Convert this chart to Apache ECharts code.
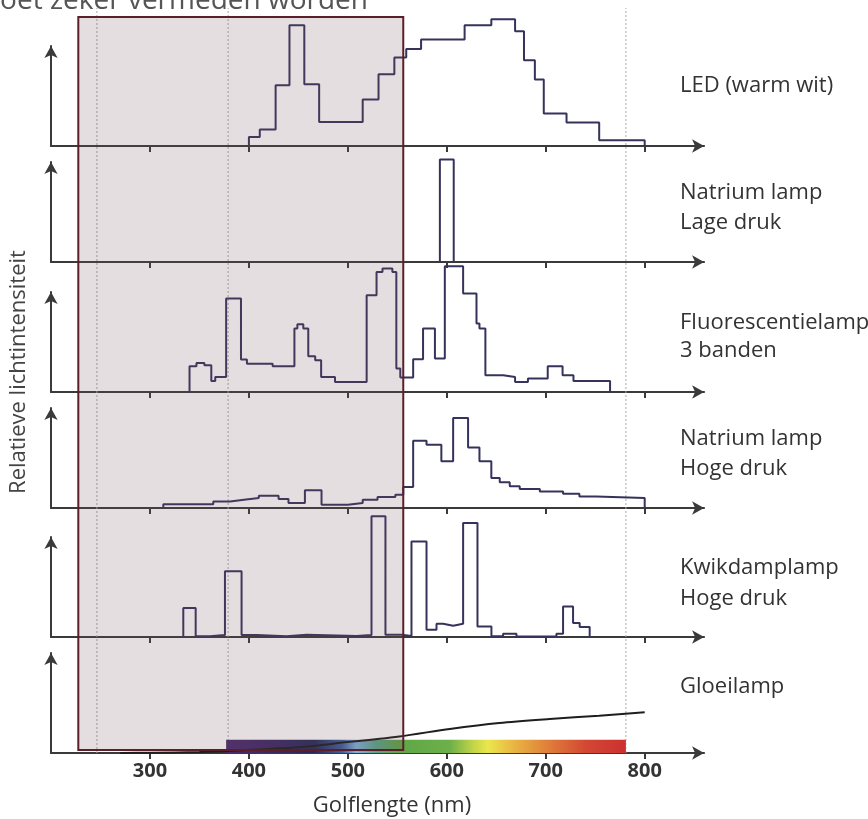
<!DOCTYPE html>
<html><head><meta charset="utf-8">
<script src="https://cdn.jsdelivr.net/npm/echarts@6/dist/echarts.min.js"></script>
<style>html,body{margin:0;padding:0;background:#fff}#chart{width:868px;height:819px}</style>
</head><body><div id="chart"></div>
<script>
// ---------- data (wavelength in nm, relative intensity) ----------
const tickValues = [300, 400, 500, 600, 700, 800];

const ledEdges  = [400, 411, 427, 441, 456, 471, 515, 531, 547, 559, 574, 618, 645, 669, 678, 689, 698, 721, 754, 800];
const ledLevels = [8.6, 15.6, 57.8, 115, 58.8, 22.9, 44.2, 68.3, 84.2, 92.3, 101.3, 115, 120.7, 109.2, 81.6, 63.2, 30.9, 22.3, 5.4];

const naLowEdges  = [593, 607];
const naLowLevels = [97.5];

const fluoEdges  = [340, 347, 355, 362, 366, 377, 392, 398, 424, 446, 449, 455, 460, 467, 473, 487, 519, 529, 535, 545, 549, 553, 566, 576, 588, 598, 616.5, 630, 633, 639, 657, 669, 682, 702, 717, 728, 765];
const fluoLevels = [24.5, 27.6, 25.4, 10.5, 14.3, 89, 30.9, 27, 24.5, 60.4, 64.5, 60.4, 34, 30.2, 14.3, 9.5, 92.1, 114.3, 117.5, 114.3, 22.3, 13.7, 31.1, 60.4, 31.8, 119.7, 93.7, 65.1, 60.4, 15.9, 14.3, 9.5, 12.8, 24.5, 15.9, 10.5];

const naHighEdges  = [313.5, 364, 381, 395, 410, 430, 440, 456.6, 473.4, 500, 515, 530, 548, 556, 566, 579.5, 594.5, 606.4, 621.5, 633, 645, 653.5, 663.6, 673.7, 694, 717.5, 734, 751, 800];
const naHighLevels = [3.5, 6.3, 7.9, 9.5, 11.7, 8.6, 4.8, 16.8, 3.1, 4.8, 7.9, 10.5, 12.7, 20, 64.1, 60.3, 44.4, 85.7, 57.7, 44.4, 28.6, 24.4, 20.6, 18.1, 15.8, 13.6, 11, 9.5];

const hgEdges  = [333.7, 346.2, 360.6, 375.8, 392.6, 407.8, 438.1, 458.3, 508.8, 523.9, 538, 554.2, 564.3, 579.5, 589.6, 596.3, 606.4, 616.5, 631, 645.1, 656.9, 670.4, 710.8, 717.5, 727.6, 734.3, 744.4];
const hgLevels = [27.6, 0.6, 2, 62.5, 2, 0.8, 2.2, 1, 2, 114.9, 2.2, 1, 91, 7, 12.7, 10.8, 12.7, 108.6, 10.1, 0.6, 3, 0.5, 3, 29.1, 13.3, 9.5];

const gloeiX = [270, 300, 350, 384, 450, 485, 552, 603, 653, 704, 754, 800];
const gloeiY = [0, 0.3, 1, 2.2, 5.5, 8.9, 15.8, 22.9, 28.6, 32.4, 35.5, 38.7];

const spectrumRange = [377, 781, 12.7];
const shadeRange = [227.6, 556];
const guideLines = [246.4, 379, 781];

const panelLabels = [['LED (warm wit)'], ['Natrium lamp', 'Lage druk'], ['Fluorescentielamp', '3 banden'],
                     ['Natrium lamp', 'Hoge druk'], ['Kwikdamplamp', 'Hoge druk'], ['Gloeilamp']];
const xTitle = 'Golflengte (nm)';
const yTitle = 'Relatieve lichtintensiteit';
const topText = 'moet zeker vermeden worden';

// ---------- layout ----------
const xMin = 200, xMax = 860;
const gridLeft = 51, pxPerNm = 0.9895;
const gridWidth = (xMax - xMin) * pxPerNm;
const baselines = [146, 262, 392, 508, 637, 753];
const panelH = 100, yMax = 95.2;
const labelY = [[91], [198, 228], [328, 356], [444, 474], [573, 604], [692]];
const FONT = 'Open Sans';
const AX = '#3a3a3a';
const LINE = '#35335c';

function stepData(edges, levels) {
  const d = [[edges[0], 0]];
  for (let i = 0; i < levels.length; i++) {
    d.push([edges[i], levels[i]]);
    d.push([edges[i + 1], levels[i]]);
  }
  d.push([edges[edges.length - 1], 0]);
  return d;
}

const grids = [], xAxes = [], yAxes = [], series = [];
baselines.forEach((b, i) => {
  grids.push({ left: gridLeft, width: gridWidth, top: b - panelH, height: panelH });
  xAxes.push({
    gridIndex: i, type: 'value', min: xMin, max: xMax, splitLine: { show: false },
    axisLine: { show: true, onZero: false, symbol: ['none', 'arrow'], symbolSize: [10, 12], lineStyle: { color: AX, width: 2 } },
    axisTick: { show: true, customValues: tickValues, length: 6, lineStyle: { color: AX, width: 2 } },
    axisLabel: { show: i === 5, customValues: tickValues, fontSize: 20, fontWeight: 'bold', color: '#333', margin: 8, fontFamily: FONT }
  });
  yAxes.push({
    gridIndex: i, type: 'value', min: 0, max: yMax, splitLine: { show: false },
    axisLine: { show: true, onZero: false, symbol: ['none', 'arrow'], symbolSize: [10, 12], lineStyle: { color: AX, width: 2 } },
    axisTick: { show: false }, axisLabel: { show: false }
  });
});
// overlay grids: 6 = shaded rectangle, 7 = guide lines
grids.push({ left: gridLeft, width: gridWidth, top: 17, height: 733 });
grids.push({ left: gridLeft, width: gridWidth, top: 8, height: 745 });
[6, 7].forEach(g => {
  xAxes.push({ gridIndex: g, type: 'value', min: xMin, max: xMax, show: false });
  yAxes.push({ gridIndex: g, type: 'value', min: 0, max: 100, show: false });
});

const stepSets = [[ledEdges, ledLevels], [naLowEdges, naLowLevels], [fluoEdges, fluoLevels], [naHighEdges, naHighLevels], [hgEdges, hgLevels]];
stepSets.forEach((s, i) => {
  series.push({ type: 'line', xAxisIndex: i, yAxisIndex: i, data: stepData(s[0], s[1]), symbol: 'none', clip: false, z: 5,
    lineStyle: { color: LINE, width: 2 } });
});

series.push({
  type: 'custom', xAxisIndex: 5, yAxisIndex: 5, z: 3, clip: false, silent: true,
  data: [spectrumRange],
  renderItem: (params, api) => {
    const p0 = api.coord([api.value(0), api.value(2)]);
    const p1 = api.coord([api.value(1), 0]);
    return { type: 'rect', shape: { x: p0[0], y: p0[1], width: p1[0] - p0[0], height: p1[1] - p0[1] },
      style: { fill: new echarts.graphic.LinearGradient(0, 0, 1, 0, [
        { offset: 0, color: '#4b2a6e' }, { offset: 0.106, color: '#3d2866' }, { offset: 0.22, color: '#252a5a' },
        { offset: 0.29, color: '#3d5f9e' }, { offset: 0.325, color: '#7fb0dc' }, { offset: 0.375, color: '#5aa58a' },
        { offset: 0.43, color: '#5ea648' }, { offset: 0.56, color: '#6db04a' }, { offset: 0.62, color: '#c5d648' },
        { offset: 0.655, color: '#ebe64c' }, { offset: 0.72, color: '#e9b543' }, { offset: 0.8, color: '#e0823a' },
        { offset: 0.899, color: '#d34834' }, { offset: 1, color: '#cc3030' }]) } };
  }
});
series.push({ type: 'line', xAxisIndex: 5, yAxisIndex: 5, data: gloeiX.map((x, k) => [x, gloeiY[k]]), symbol: 'none',
  smooth: 0.3, clip: false, z: 5, lineStyle: { color: '#1e1e1e', width: 2 } });

guideLines.forEach(v => {
  series.push({ type: 'line', xAxisIndex: 7, yAxisIndex: 7, data: [[v, 0], [v, 100]], symbol: 'none', z: 1, silent: true,
    lineStyle: { color: '#a8a8a8', width: 1, type: [2, 2] } });
});

series.push({
  type: 'custom', xAxisIndex: 6, yAxisIndex: 6, z: 20, clip: false, silent: true,
  data: [[shadeRange[0], 0, shadeRange[1]]],
  renderItem: (params, api) => {
    const p0 = api.coord([api.value(0), 100]);
    const p1 = api.coord([api.value(2), 0]);
    return { type: 'rect', shape: { x: p0[0], y: p0[1], width: p1[0] - p0[0], height: p1[1] - p0[1] },
      style: { fill: 'rgba(115,80,88,0.19)', stroke: '#5c1f2a', lineWidth: 2 } };
  }
});

const graphics = [];
panelLabels.forEach((lines, i) => {
  lines.forEach((t, j) => {
    graphics.push({ type: 'text', left: 680, top: labelY[i][j] - 16,
      style: { text: t, font: '22px "' + FONT + '"', fill: '#333', textVerticalAlign: 'top' } });
  });
});
graphics.push({ type: 'text', x: 392, y: 806, style: { text: xTitle, font: '22px "' + FONT + '"', fill: '#333', align: 'center', verticalAlign: 'middle' } });
graphics.push({ type: 'text', x: 19, y: 372, rotation: Math.PI / 2, style: { text: yTitle, font: '22px "' + FONT + '"', fill: '#444', align: 'center', verticalAlign: 'middle' } });
graphics.push({ type: 'text', x: 368, y: 15, style: { text: topText, font: '28px "' + FONT + '"', fill: '#555', align: 'right', verticalAlign: 'bottom' } });

const chart = echarts.init(document.getElementById('chart'), null, { renderer: 'canvas' });
chart.setOption({
  animation: false, backgroundColor: '#fff',
  grid: grids, xAxis: xAxes, yAxis: yAxes, series: series, graphic: graphics
});
</script></body></html>
